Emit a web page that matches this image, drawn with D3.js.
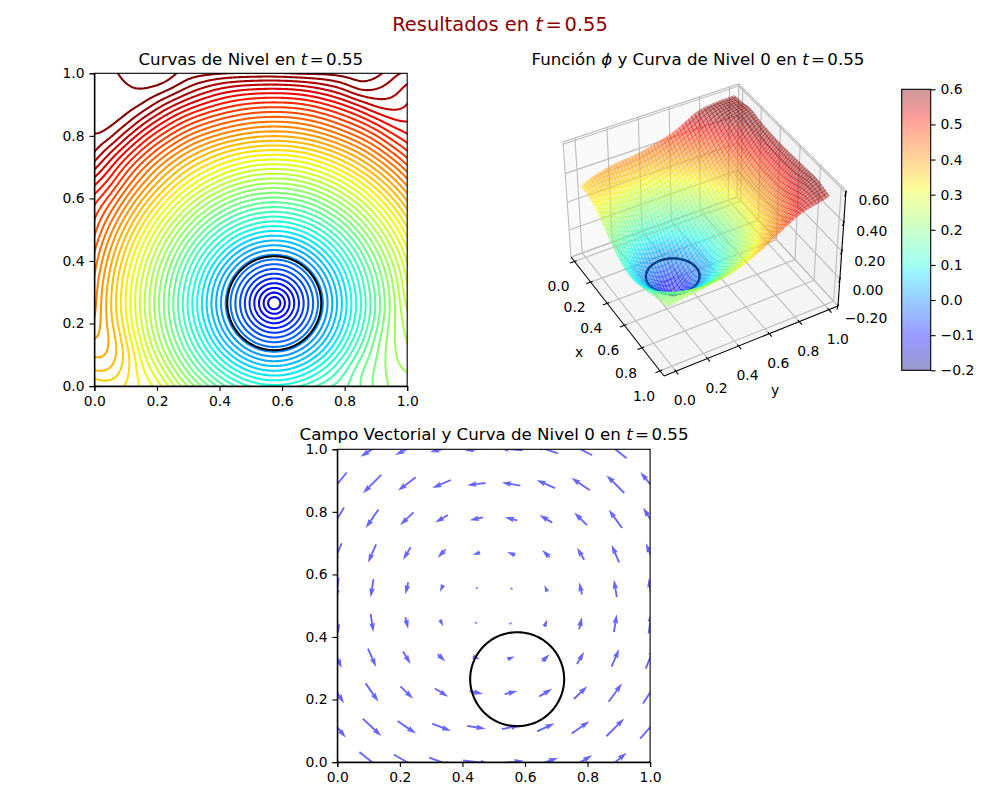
<!DOCTYPE html>
<html lang="es">
<head>
<meta charset="UTF-8">
<title>Resultados en t = 0.55</title>
<script src="https://d3js.org/d3.v7.min.js"></script>
<style>
    body { margin: 0; background: white; }
    svg { display: block; }
    text { font-family: "DejaVu Sans", sans-serif; fill: black; }
    .tick text { font-size: 13.9px; }
    .tick line, .domain { stroke: black; stroke-width: 1.1px; }
    .t3 { font-size: 13.9px; text-anchor: middle; dominant-baseline: central; }
</style>
</head>
<body>
<svg id="fig" width="1000" height="800"></svg>
<script>
// phi, rows y = 0 .. 1, columns x = 0 .. 1, step 0.05
const phi = [
[.345,.352,.342,.325,.309,.269,.232,.198,.167,.143,.125,.116,.116,.125,.141,.158,.1725,.192,.210,.224,.229],
[.377,.374,.349,.318,.285,.240,.199,.161,.127,.099,.078,.066,.066,.078,.099,.127,.158,.189,.209,.228,.238],
[.394,.388,.355,.306,.260,.214,.171,.129,.090,.057,.031,.017,.017,.031,.057,.090,.129,.171,.204,.232,.248],
[.407,.391,.343,.290,.242,.195,.148,.103,.059,.020,-.013,-.033,-.033,-.013,.020,.059,.103,.148,.197,.232,.254],
[.417,.381,.331,.280,.231,.181,.132,.084,.037,-.009,-.051,-.081,-.081,-.051,-.009,.037,.084,.132,.181,.231,.259],
[.422,.375,.325,.275,.225,.175,.125,.075,.025,-.024,-.074,-.122,-.122,-.074,-.024,.025,.075,.125,.175,.225,.268],
[.425,.376,.326,.276,.227,.177,.127,.078,.028,-.020,-.068,-.108,-.108,-.068,-.020,.028,.078,.127,.177,.227,.276],
[.431,.382,.332,.283,.234,.186,.138,.090,.044,.001,-.037,-.062,-.062,-.037,.001,.044,.090,.138,.186,.234,.283],
[.441,.392,.344,.296,.248,.202,.156,.112,.071,.034,.004,-.013,-.013,.004,.034,.071,.112,.156,.202,.248,.296],
[.453,.407,.360,.313,.268,.224,.181,.141,.105,.073,.049,.037,.037,.049,.073,.105,.141,.181,.224,.268,.313],
[.469,.425,.380,.336,.292,.251,.212,.175,.143,.116,.097,.086,.086,.097,.116,.143,.175,.212,.251,.292,.336],
[.484,.447,.404,.362,.321,.282,.246,.213,.184,.161,.145,.136,.136,.145,.161,.184,.213,.246,.282,.321,.362],
[.503,.473,.431,.391,.353,.317,.283,.253,.228,.207,.193,.186,.186,.193,.207,.228,.253,.283,.317,.353,.391],
[.530,.501,.461,.423,.387,.354,.323,.296,.273,.255,.242,.236,.236,.242,.255,.273,.296,.323,.354,.387,.423],
[.560,.527,.489,.454,.420,.389,.361,.339,.319,.303,.291,.286,.286,.291,.303,.319,.340,.365,.393,.424,.458],
[.589,.558,.524,.490,.458,.429,.402,.381,.362,.349,.340,.336,.336,.341,.351,.366,.385,.407,.434,.465,.493],
[.604,.595,.561,.528,.498,.471,.446,.428,.413,.401,.392,.388,.388,.392,.402,.416,.434,.454,.476,.504,.524],
[.609,.610,.599,.568,.540,.514,.491,.474,.460,.449,.441,.437,.437,.441,.450,.463,.480,.497,.519,.540,.5445],
[.611,.612,.6115,.606,.582,.558,.538,.521,.507,.496,.489,.486,.486,.489,.497,.510,.525,.543,.565,.566,.557],
[.612,.612,.613,.616,.614,.603,.583,.567,.553,.544,.539,.537,.537,.540,.548,.560,.573,.595,.586,.578,.565],
[.612,.6125,.618,.632,.632,.622,.611,.606,.601,.598,.597,.596,.597,.600,.602,.604,.609,.615,.608,.590,.580]
];

// the 50 contour levels
const levels = [-.1325,-.1173,-.102,-.0868,-.0715,-.0563,-.041,-.0258,-.0105,.0048,
    .02,.0353,.0505,.0658,.081,.0963,.1115,.1268,.142,.1573,
    .1725,.1878,.203,.2183,.2335,.2488,.264,.2793,.2945,.3098,
    .325,.3403,.3555,.3708,.386,.4013,.4165,.4318,.447,.4623,
    .4775,.4928,.508,.5233,.5385,.5538,.569,.5843,.5995,.6148];

// arrows on a 10x10 grid, rows y = 0 .. 1, columns x = 0 .. 1 (data units)
const quiverU = [
[.074,.081,.083,.079,.085,.081,.077,.074,.072,.074],
[.055,.059,.059,.060,.059,.059,.056,.057,.057,.064],
[.043,.041,.041,.043,.043,.041,.041,.043,.043,.045],
[.028,.026,.024,.024,.023,.023,.024,.023,.024,.028],
[.009,.009,.009,.010,.009,.009,.009,.009,.009,.009],
[-.009,-.009,-.009,-.010,-.009,-.009,-.009,-.009,-.009,-.009],
[-.028,-.026,-.024,-.026,-.024,-.026,-.024,-.023,-.024,-.027],
[-.043,-.041,-.043,-.041,-.043,-.040,-.041,-.041,-.043,-.045],
[-.060,-.059,-.057,-.059,-.059,-.059,-.059,-.059,-.057,-.062],
[-.074,-.074,-.074,-.074,-.074,-.074,-.077,-.074,-.072,-.074]
];
const quiverV = [
[-.074,-.064,-.049,-.028,-.011,.009,.026,.043,.060,.074],
[-.066,-.056,-.040,-.024,-.009,.011,.026,.040,.057,.072],
[-.070,-.059,-.040,-.026,-.009,.010,.024,.041,.059,.070],
[-.066,-.059,-.040,-.024,-.009,.009,.023,.039,.057,.069],
[-.066,-.059,-.038,-.022,-.007,.007,.023,.039,.057,.066],
[-.066,-.059,-.039,-.023,-.007,.007,.022,.039,.056,.064],
[-.066,-.059,-.041,-.026,-.007,.010,.023,.039,.056,.066],
[-.072,-.059,-.041,-.024,-.009,.010,.024,.040,.059,.072],
[-.074,-.059,-.043,-.026,-.007,.010,.026,.040,.057,.077],
[-.074,-.047,-.036,-.017,-.009,.006,.026,.038,.057,.074]
];

const unitTicks = [0, 0.2, 0.4, 0.6, 0.8, 1];
const zTicks = [-0.2, 0, 0.2, 0.4, 0.6];
const barTicks = [-0.2, -0.1, 0, 0.1, 0.2, 0.3, 0.4, 0.5, 0.6];

const svg = d3.select("#fig");

// jet colormap, phi from -0.2 to 0.6 on all plots
const jetR = d3.scaleLinear().domain([0, .35, .66, .89, 1]).range([0, 0, 1, 1, .5]).clamp(true);
const jetG = d3.scaleLinear().domain([0, .125, .375, .64, .91, 1]).range([0, 0, 1, 1, 0, 0]).clamp(true);
const jetB = d3.scaleLinear().domain([0, .11, .34, .65, 1]).range([.5, 1, 1, 0, 0]).clamp(true);
const jet = t => d3.rgb(jetR(t) * 255, jetG(t) * 255, jetB(t) * 255).formatRgb();
const phiColor = v => jet((v + 0.2) / 0.8);

// smooth lookup in phi: work on (phi + .15)^2 so the cone tip stays a clean circle
function extend(a) {
    const n = a.length;
    return [3 * a[0] - 3 * a[1] + a[2], ...a, 3 * a[n - 1] - 3 * a[n - 2] + a[n - 3]];
}
const squared = phi.map(row => extend(row.map(v => (v + .15) * (v + .15))));
const sqGrid = d3.range(squared[0].length).map(i => extend(squared.map(r => r[i])));
// sqGrid[col][row]; cubic b-spline, no ripple between the hand read values
function bspline(p0, p1, p2, p3, t) {
    const t2 = t * t, t3 = t2 * t;
    return ((1 - 3 * t + 3 * t2 - t3) * p0 + (4 - 6 * t2 + 3 * t3) * p1 + (1 + 3 * t + 3 * t2 - 3 * t3) * p2 + t3 * p3) / 6;
}
const splineShift = 2 * 0.05 * 0.05 / 3; // what the spline adds to a pure x^2 + y^2
function field(x, y) {
    const gx = x * 20, gy = y * 20;
    const i = Math.max(0, Math.min(19, Math.floor(gx))), j = Math.max(0, Math.min(19, Math.floor(gy)));
    const t = gx - i, s = gy - j;
    const c = [0, 1, 2, 3].map(k => {
        const col = sqGrid[i + k];
        return bspline(col[j], col[j + 1], col[j + 2], col[j + 3], s);
    });
    return Math.sqrt(Math.max(0, bspline(c[0], c[1], c[2], c[3], t) - splineShift)) - .15;
}

// fine sampling for d3.contours, a bit past the frame so the rings' outer edge gets clipped
const N = 340, lo = -0.015, step = 1.03 / (N - 1);
const samples = new Float64Array(N * N);
for (let j = 0; j < N; j++) {
    for (let i = 0; i < N; i++) samples[j * N + i] = field(lo + i * step, lo + j * step);
}
const contourMaker = d3.contours().size([N, N]).smooth(true);
const levelContours = contourMaker.thresholds(levels)(samples);
const zeroContour = contourMaker.thresholds([0])(samples)[0];

function plotAxes(id, left, top, size) {
    const x = d3.scaleLinear().domain([0, 1]).range([left, left + size]);
    const y = d3.scaleLinear().domain([0, 1]).range([top + size, top]);
    svg.append("clipPath").attr("id", id).append("rect")
        .attr("x", left).attr("y", top).attr("width", size).attr("height", size);
    const path = d3.geoPath(d3.geoTransform({
        point(a, b) { this.stream.point(x(lo + (a - .5) * step), y(lo + (b - .5) * step)); }
    }));
    const g = svg.append("g").attr("clip-path", `url(#${id})`);
    return { x, y, g, path, left, top, size };
}

function drawFrame(ax) {
    svg.append("rect").attr("x", ax.left).attr("y", ax.top).attr("width", ax.size).attr("height", ax.size)
        .attr("fill", "none").attr("stroke", "black").attr("stroke-width", 1.1);
    const fmt = d3.format(".1f");
    svg.append("g").attr("transform", `translate(0,${ax.top + ax.size})`)
        .call(d3.axisBottom(ax.x).tickValues(unitTicks).tickFormat(fmt).tickSize(4.9).tickPadding(4.9));
    svg.append("g").attr("transform", `translate(${ax.left},0)`)
        .call(d3.axisLeft(ax.y).tickValues(unitTicks).tickFormat(fmt).tickSize(4.9).tickPadding(4.9));
}

// plain text, italic symbols in between, then the tighter math "= 0.55"
function title(cx, y, before, symbols, size, color) {
    const t = svg.append("text").attr("x", cx).attr("y", y).attr("text-anchor", "middle")
        .attr("font-size", size).style("fill", color || "black");
    before.forEach((part, i) => {
        t.append("tspan").text(part);
        t.append("tspan").attr("font-style", "italic").text(symbols[i]);
    });
    t.append("tspan").attr("dx", "0.14em").text("=");
    t.append("tspan").attr("dx", "0.14em").text("0.55");
}

// top left: level curves
const axA = plotAxes("clipA", 94.4, 73.3, 312.8);
axA.g.selectAll("path.level")
    .data(levelContours)
    .enter()
    .append("path")
    .attr("class", "level")
    .attr("d", axA.path)
    .attr("fill", "none")
    .attr("stroke", (d, i) => phiColor(levels[i]))
    .attr("stroke-width", 2.08);
axA.g.append("path").attr("d", axA.path(zeroContour))
    .attr("fill", "none").attr("stroke", "black").attr("stroke-width", 2.08);
drawFrame(axA);
title(250.8, 65, ["Curvas de Nivel en "], ["t"], 16.67);

// bottom: vector field
const axC = plotAxes("clipC", 337.3, 449.3, 312.8);
const arrows = [];
quiverU.forEach((row, j) => row.forEach((u, i) => arrows.push({ x: i / 9, y: j / 9, u, v: quiverV[j][i] })));

function arrowShape(d) {
    const x0 = axC.x(d.x - d.u / 2), y0 = axC.y(d.y - d.v / 2);
    const x1 = axC.x(d.x + d.u / 2), y1 = axC.y(d.y + d.v / 2);
    const L = Math.hypot(x1 - x0, y1 - y0);
    const shrink = Math.min(1, L / 9.4);
    const w = 1.88 * shrink / 2, hw = 5.64 * shrink / 2, h = 9.4 * shrink, a = 8.46 * shrink;
    const pts = [[0, w], [L - a, w], [L - h, hw], [L, 0], [L - h, -hw], [L - a, -w], [0, -w]];
    const cos = (x1 - x0) / L, sin = (y1 - y0) / L;
    return "M" + pts.map(p => [x0 + p[0] * cos - p[1] * sin, y0 + p[0] * sin + p[1] * cos].join(",")).join("L") + "Z";
}

axC.g.selectAll("path.arrow")
    .data(arrows)
    .enter()
    .append("path")
    .attr("class", "arrow")
    .attr("d", arrowShape)
    .attr("fill", "#0000ff")
    .attr("fill-opacity", 0.6);
axC.g.append("path").attr("d", axC.path(zeroContour))
    .attr("fill", "none").attr("stroke", "black").attr("stroke-width", 2.08);
drawFrame(axC);
title(494, 440, ["Campo Vectorial y Curva de Nivel 0 en "], ["t"], 16.67);

// top right: surface. Box corners as seen on the page, floor x0y0, x1y0, x1y1, x0y1, then two top corners
const floorBox = [[571, 257], [664, 376], [838, 306], [737, 197]];
const topA = [563, 142], topC = [846, 187];

// projective map from the unit box to the page
const [p0, p1, p2, p3] = floorBox;
const dx1 = p1[0] - p2[0], dx2 = p3[0] - p2[0], sx = p0[0] - p1[0] + p2[0] - p3[0];
const dy1 = p1[1] - p2[1], dy2 = p3[1] - p2[1], sy = p0[1] - p1[1] + p2[1] - p3[1];
const den = dx1 * dy2 - dx2 * dy1;
const hg = (sx * dy2 - dx2 * sy) / den, hh = (dx1 * sy - sx * dy1) / den;
const ha = p1[0] - p0[0] + hg * p1[0], hb = p3[0] - p0[0] + hh * p3[0];
const hd = p1[1] - p0[1] + hg * p1[1], he = p3[1] - p0[1] + hh * p3[1];
const hr = (topC[0] * (hg + hh + 1) - ha - hb - topA[0]) / (topA[0] - topC[0]);
const hp = topA[0] * (1 + hr) - p0[0], hq = topA[1] * (1 + hr) - p0[1];
function project(u, v, f) {
    const w = hg * u + hh * v + 1 + hr * f;
    return [(ha * u + hb * v + p0[0] + hp * f) / w, (hd * u + he * v + p0[1] + hq * f) / w];
}
// ticks and grid
const boxX = d3.scaleLinear().domain([0, 1]).range([.04, .96]);
const boxY = d3.scaleLinear().domain([0, 1]).range([.065, .945]);
const boxZ = d3.scaleLinear().domain([-0.2, 0.615]).range([0, 1]);
// the surface itself sits a little further in
const surfX = d3.scaleLinear().domain([0, 1]).range([.055, .945]);
const surfY = d3.scaleLinear().domain([0, 1]).range([.055, .945]);
const surfZ = d3.scaleLinear().domain([-0.2, 0.635]).range([0, 1]);
const line3 = d3.line();

const box = svg.append("g");
const drawPoly = (pts, fill) => box.append("path").attr("d", line3(pts) + "Z").attr("fill", fill).attr("stroke", "none");
drawPoly([project(0, 0, 0), project(0, 1, 0), project(0, 1, 1), project(0, 0, 1)], "#f9f9f9");
drawPoly([project(0, 1, 0), project(1, 1, 0), project(1, 1, 1), project(0, 1, 1)], "#f2f2f2");
drawPoly([project(0, 0, 0), project(1, 0, 0), project(1, 1, 0), project(0, 1, 0)], "#f5f5f5");

const gridSegs = [];
unitTicks.forEach(t => {
    gridSegs.push([project(boxX(t), 0, 0), project(boxX(t), 1, 0), project(boxX(t), 1, 1)]);
    gridSegs.push([project(1, boxY(t), 0), project(0, boxY(t), 0), project(0, boxY(t), 1)]);
});
zTicks.forEach(t => gridSegs.push([project(0, 0, boxZ(t)), project(0, 1, boxZ(t)), project(1, 1, boxZ(t))]));
gridSegs.push([project(0, 0, 0), project(0, 0, 1), project(0, 1, 1), project(1, 1, 1)]);
gridSegs.push([project(0, 1, 0), project(0, 1, 1)]);
gridSegs.push([project(0, 0, 0), project(0, 1, 0), project(1, 1, 0)]);
box.selectAll("path.gridline").data(gridSegs).enter().append("path")
    .attr("class", "gridline")
    .attr("d", line3).attr("fill", "none").attr("stroke", "#bcbcbc").attr("stroke-width", 1.1);

const axisSegs = [[project(0, 0, 0), project(1, 0, 0)], [project(1, 0, 0), project(1, 1, 0)], [project(1, 1, 0), project(1, 1, 1)]];
unitTicks.forEach(t => {
    axisSegs.push([project(boxX(t), -.025, 0), project(boxX(t), .012, 0)]);
    axisSegs.push([project(1.025, boxY(t), 0), project(.988, boxY(t), 0)]);
});
zTicks.forEach(t => axisSegs.push([project(1.02, .98, boxZ(t)), project(.99, 1.01, boxZ(t))]));
box.selectAll("path.axisline").data(axisSegs).enter().append("path")
    .attr("class", "axisline")
    .attr("d", line3).attr("fill", "none").attr("stroke", "black").attr("stroke-width", 1.1);

// mesh cells and the zero curve go into one list, painted far to near
const M = 50;
const depth = (u, v, f) => (u - v) * .7 + f * .7;
const items = [];
for (let i = 0; i < M - 1; i++) {
    for (let j = 0; j < M - 1; j++) {
        const corners = [[i, j], [i + 1, j], [i + 1, j + 1], [i, j + 1]].map(c => {
            const x = c[0] / (M - 1), y = c[1] / (M - 1);
            return { x, y, z: field(x, y) };
        });
        const zm = d3.mean(corners, c => c.z), xm = d3.mean(corners, c => c.x), ym = d3.mean(corners, c => c.y);
        const col = phiColor(zm);
        items.push({
            d: line3(corners.map(c => project(surfX(c.x), surfY(c.y), surfZ(c.z)))) + "Z",
            fill: col, stroke: col, opacity: 0.4, width: 0.75,
            key: depth(surfX(xm), surfY(ym), surfZ(zm))
        });
    }
}
// zero level on the surface: the hole ring of zeroContour, lifted to z = 0
const zeroRing = zeroContour.coordinates.flat(1).pop();
d3.pairs(zeroRing.filter((p, i) => i % 3 === 0).concat([zeroRing[0]])).forEach(pair => {
    const toBox = p => [surfX(lo + (p[0] - .5) * step), surfY(lo + (p[1] - .5) * step)];
    const a = toBox(pair[0]), b = toBox(pair[1]);
    items.push({
        d: line3([project(a[0], a[1], surfZ(0)), project(b[0], b[1], surfZ(0))]),
        fill: "none", stroke: "#0b2c5e", opacity: 1, width: 2.08,
        key: depth((a[0] + b[0]) / 2, (a[1] + b[1]) / 2, surfZ(0))
    });
});
items.sort((a, b) => a.key - b.key);
svg.append("g").selectAll("path")
    .data(items)
    .enter()
    .append("path")
    .attr("d", d => d.d)
    .attr("fill", d => d.fill)
    .attr("fill-opacity", d => d.opacity)
    .attr("stroke", d => d.stroke)
    .attr("stroke-opacity", d => d.opacity)
    .attr("stroke-width", d => d.width)
    .attr("stroke-linejoin", "round")
    .attr("stroke-linecap", "round");

// 3d tick labels
const fmt1 = d3.format(".1f"), fmt2 = d3.format(".2f");
const label3 = (p, dx, dy, txt) => svg.append("text").attr("class", "t3").attr("x", p[0] + dx).attr("y", p[1] + dy).text(txt);
const zLabelDy = d3.scaleLinear().domain([-0.2, 0.6]).range([12, 7]);
unitTicks.forEach(t => {
    label3(project(boxX(t), 0, 0), -16, 25, fmt1(t));
    label3(project(1, boxY(t), 0), 9, 29, fmt1(t));
});
zTicks.forEach(t => label3(project(1, 1, boxZ(t)), 28, zLabelDy(t), fmt2(t)));
svg.append("text").attr("class", "t3").attr("x", 579).attr("y", 352).text("x");
svg.append("text").attr("class", "t3").attr("x", 775).attr("y", 390).text("y");

title(698, 65, ["Función ", " y Curva de Nivel 0 en "], ["\u03D5", "t"], 16.67);

// colorbar
const barY = d3.scaleLinear().domain([-0.2, 0.6]).range([370.3, 89.3]);
const gradient = svg.append("defs").append("linearGradient").attr("id", "jetbar")
    .attr("x1", 0).attr("y1", 1).attr("x2", 0).attr("y2", 0);
gradient.selectAll("stop")
    .data(d3.range(0, 1.001, .02))
    .enter()
    .append("stop")
    .attr("offset", d => d)
    .attr("stop-color", d => jet(d))
    .attr("stop-opacity", 0.4);
svg.append("rect").attr("x", 901.7).attr("y", 89.3).attr("width", 29).attr("height", 281)
    .attr("fill", "url(#jetbar)").attr("stroke", "black").attr("stroke-width", 1.1);
svg.append("g").attr("transform", "translate(930.7,0)")
    .call(d3.axisRight(barY).tickValues(barTicks).tickFormat(fmt1).tickSize(4.9).tickPadding(4.9))
    .select(".domain").remove();

title(500, 31, ["Resultados en "], ["t"], 19.44, "#8b0000");
</script>
</body>
</html>
